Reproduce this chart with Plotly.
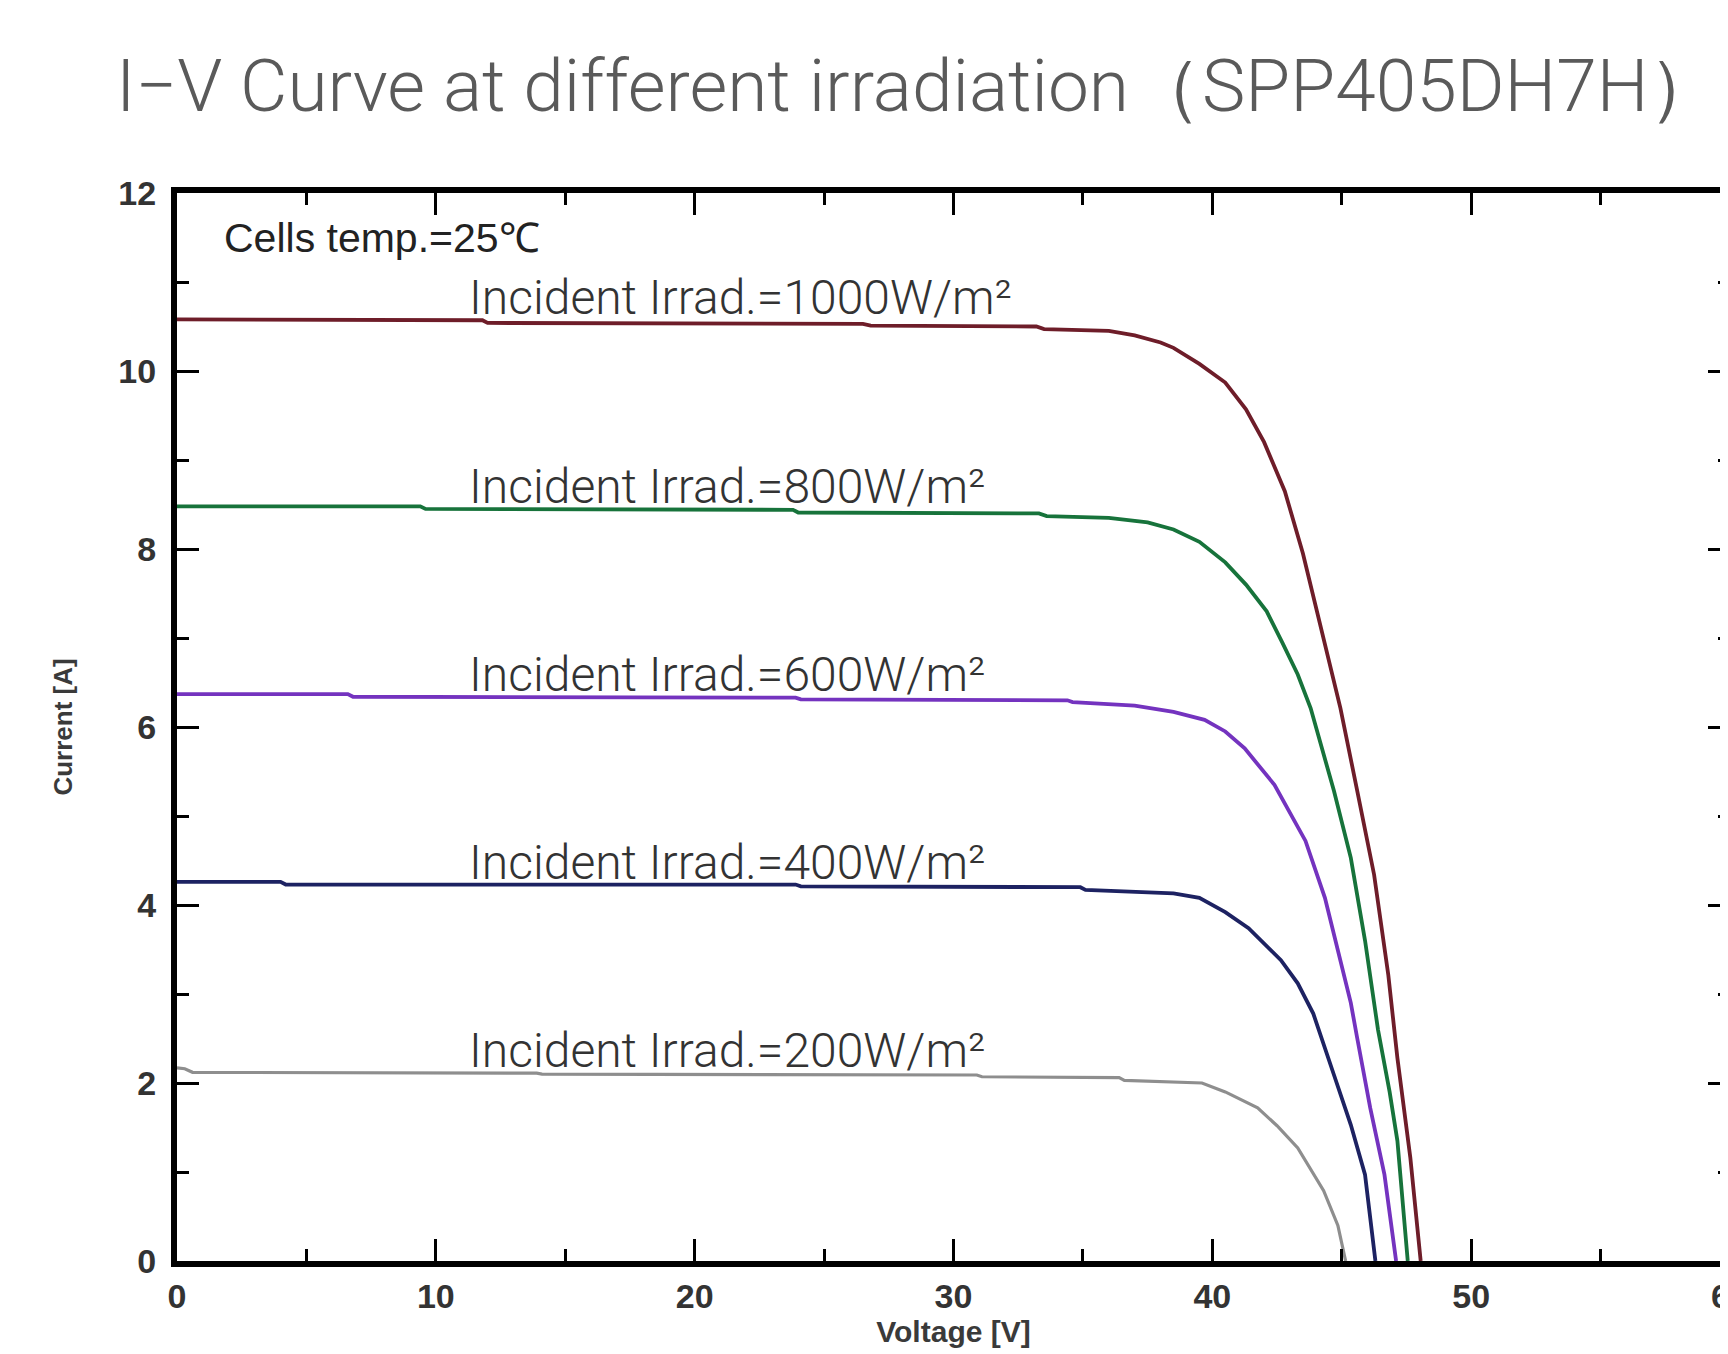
import numpy as np
import plotly.graph_objects as go

# ---- data ----
v_1000 = [0, 0.5, 11.8, 12.0, 26.5, 26.8, 33.2, 33.5, 36, 37, 38, 38.5, 39.5, 40.5, 41.3, 42, 42.8, 43.5, 44.0, 44.95, 45.6, 46.25, 46.8, 47.15, 47.65, 48.05]
i_1000 = [10.58, 10.58, 10.57, 10.54, 10.53, 10.51, 10.5, 10.47, 10.45, 10.4, 10.32, 10.26, 10.08, 9.87, 9.57, 9.2, 8.65, 7.95, 7.34, 6.21, 5.28, 4.34, 3.21, 2.28, 1.16, 0]

v_800 = [0, 9.4, 9.6, 23.8, 24.0, 33.3, 33.6, 36, 37.5, 38.5, 39.5, 40.5, 41.3, 42.1, 42.7, 43.3, 43.8, 44.7, 45.35, 45.9, 46.4, 46.85, 47.15, 47.55]
i_800 = [8.48, 8.48, 8.45, 8.44, 8.41, 8.4, 8.37, 8.35, 8.3, 8.22, 8.08, 7.85, 7.6, 7.3, 6.95, 6.59, 6.21, 5.28, 4.53, 3.6, 2.6, 1.9, 1.35, 0]

v_600 = [0, 6.6, 6.8, 23.9, 24.1, 34.4, 34.6, 37, 38.5, 39.7, 40.5, 41.25, 42.4, 43.6, 44.35, 44.9, 45.35, 45.6, 46.1, 46.65, 47.1]
i_600 = [6.37, 6.37, 6.34, 6.33, 6.31, 6.3, 6.28, 6.24, 6.17, 6.08, 5.95, 5.76, 5.35, 4.72, 4.08, 3.45, 2.9, 2.5, 1.72, 0.97, 0]

v_400 = [0, 4.0, 4.2, 23.9, 24.1, 34.9, 35.1, 38.5, 39.5, 40.5, 41.4, 42.65, 43.3, 43.9, 44.7, 45.35, 45.9, 46.3]
i_400 = [4.26, 4.26, 4.23, 4.23, 4.21, 4.2, 4.17, 4.13, 4.08, 3.92, 3.74, 3.38, 3.12, 2.78, 2.09, 1.53, 0.97, 0]

v_200 = [0, 0.3, 0.6, 13.9, 14.1, 30.9, 31.1, 36.4, 36.6, 39.6, 40.5, 41.75, 42.5, 43.3, 44.3, 44.85, 45.15]
i_200 = [2.17, 2.16, 2.12, 2.11, 2.10, 2.09, 2.07, 2.06, 2.03, 2.0, 1.9, 1.72, 1.52, 1.27, 0.79, 0.40, 0]

series_names = ["Incident Irrad.=1000W/m²", "Incident Irrad.=800W/m²", "Incident Irrad.=600W/m²",
                "Incident Irrad.=400W/m²", "Incident Irrad.=200W/m²"]
series_v = [v_1000, v_800, v_600, v_400, v_200]
series_i = [i_1000, i_800, i_600, i_400, i_200]
series_colors = ["#6e1d29", "#17733b", "#7433bf", "#1d2262", "#8e8e8e"]
series_widths = [3.8, 3.8, 3.8, 3.8, 3.2]

x_ticks = [0, 10, 20, 30, 40, 50, 60]
y_ticks = [0, 2, 4, 6, 8, 10, 12]

title_text = "I−V Curve at different irradiation（SPP405DH7H）"
temp_text = "Cells temp.=25℃"
label_v = 11.2

fig = go.Figure()
for name, v, i, c, w in zip(series_names, series_v, series_i, series_colors, series_widths):
    fig.add_trace(go.Scatter(x=v, y=i, mode="lines", name=name,
                             line=dict(color=c, width=w), showlegend=False))
    fig.add_annotation(x=label_v, y=float(np.interp(label_v, v, i)), text=name,
                       xref="x", yref="y", xanchor="left", yanchor="bottom",
                       yshift=-8, showarrow=False,
                       font=dict(family="Roboto", size=48, color="#333333", weight=300))

fig.add_annotation(x=1.75, y=11.5, text=temp_text, xref="x", yref="y",
                   xanchor="left", yanchor="middle", showarrow=False,
                   font=dict(family="Liberation Sans, Arial", size=41, color="#222222"))

axis_common = dict(showline=True, linecolor="black", linewidth=6, mirror="allticks",
                   ticks="inside", tickcolor="black", tickwidth=3, ticklen=22,
                   showgrid=False, zeroline=False, automargin=False,
                   tickfont=dict(family="Liberation Sans, Arial", size=34, color="#333333", weight="bold"))

fig.update_layout(
    width=1728, height=1354,
    margin=dict(l=169, r=6, t=185, b=101),
    paper_bgcolor="white", plot_bgcolor="white",
    title=dict(text=title_text, xref="container", yref="container",
               x=108 / 1728, xanchor="left", y=1 - 77 / 1354, yanchor="middle",
               font=dict(family="Roboto", size=73, color="#5a5a5a", weight=300)),
    xaxis=dict(range=[0, 60], tickvals=x_ticks, ticktext=[str(t) for t in x_ticks],
               ticklabeloverflow="allow",
               minor=dict(ticks="inside", dtick=5, ticklen=12, tickwidth=2.5, tickcolor="black"),
               title=dict(text="Voltage [V]", standoff=8,
                          font=dict(family="Liberation Sans, Arial", size=30, color="#3a3a3a", weight="bold")),
               **axis_common),
    yaxis=dict(range=[0, 12], tickvals=y_ticks, ticktext=[str(t) for t in y_ticks],
               ticklabelstandoff=8,
               minor=dict(ticks="inside", dtick=1, ticklen=12, tickwidth=2.5, tickcolor="black"),
               title=dict(text="Current [A]", standoff=40,
                          font=dict(family="Liberation Sans, Arial", size=26, color="#3a3a3a", weight="bold")),
               **axis_common),
)

fig.write_html("out.html")
